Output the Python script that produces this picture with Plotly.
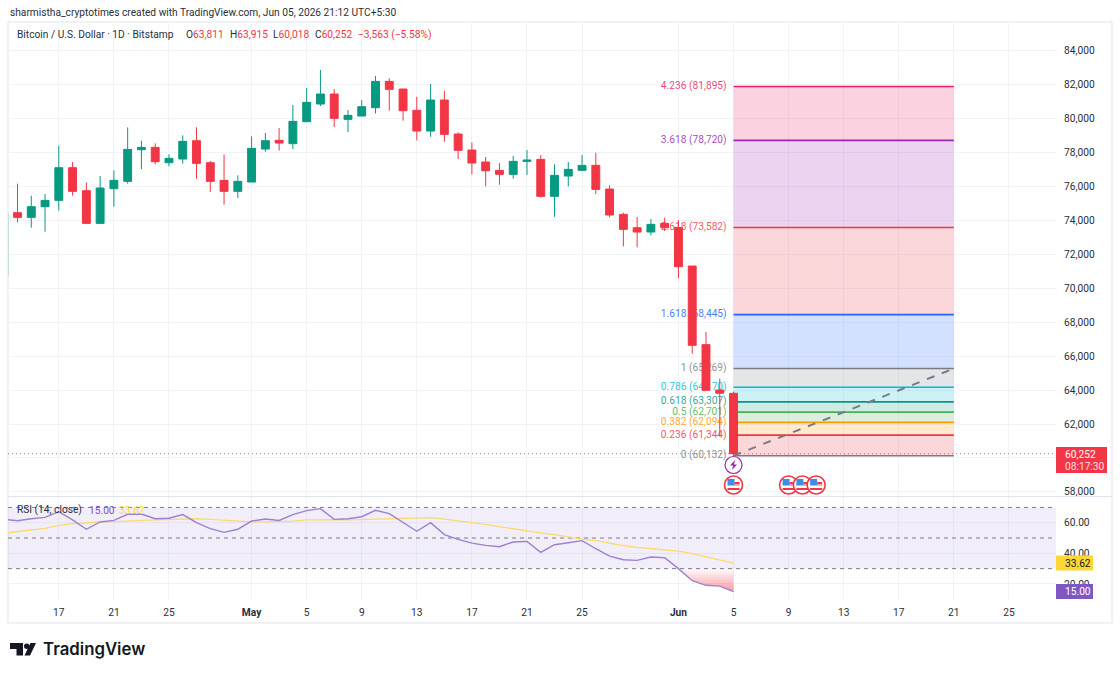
import pandas as pd
import plotly.graph_objects as go

W, H = 1120, 675
PANE_L, PANE_R = 8, 1056
MAIN_T, MAIN_B = 22, 496
RSI_B = 600

dates = pd.date_range("2026-04-13", "2026-06-05").strftime("%Y-%m-%d").tolist()

opens = [70723, 74456, 74181, 74810, 75183, 77108, 75753, 73827, 75871, 76303, 78169, 78307, 77403, 77619,
         78700, 77403, 76362, 75714, 76264, 78209, 78720, 78523, 79820, 80861, 81450, 79957, 80154, 80645,
         82197, 81745, 80487, 79269, 81096, 79092, 78149, 77442, 76951, 76715, 77481, 77599, 75418, 76617,
         76951, 77246, 75850, 74357, 73571, 73316, 73827, 73582, 71313, 66677, 64005, 63811]
highs = [74456, 76165, 75458, 75556, 78405, 77442, 76244, 76617, 76951, 79486, 78700, 78543, 77894, 79014,
         79486, 77501, 77894, 76656, 78955, 79152, 79446, 80802, 81804, 82865, 81745, 80507, 81097, 82511,
         82373, 81764, 81293, 82039, 81646, 79191, 78601, 77737, 77363, 77796, 78149, 77855, 77305, 77442,
         77855, 77992, 76067, 74456, 74200, 74082, 74161, 74024, 71313, 67423, 64673, 63915]
lows = [70723, 73886, 73572, 73336, 74574, 75458, 73827, 73788, 74810, 76165, 77030, 77305, 77187, 77344,
        76460, 75674, 74928, 75320, 76264, 78051, 78110, 78209, 79820, 80743, 79505, 79211, 80154, 80311,
        80468, 79878, 78719, 78935, 78640, 77619, 76715, 76008, 76106, 76460, 76676, 75340, 74220, 76008,
        76951, 75556, 74181, 72471, 72412, 73120, 73375, 70586, 66146, 63985, 61254, 60018]
closes = [74456, 74181, 74810, 75183, 77108, 75714, 73827, 75910, 76362, 78189, 78307, 77462, 77658, 78660,
          77364, 76303, 75714, 76303, 78248, 78700, 78562, 79839, 80959, 81450, 80016, 80193, 80704, 82197,
          81725, 80468, 79269, 81096, 79073, 78130, 77383, 76931, 76715, 77481, 77560, 75418, 76656, 77010,
          77246, 75831, 74318, 73473, 73316, 73768, 73571, 71274, 66637, 63985, 63815, 60252]

rsi = [62.2, 61.3, 62.6, 63.5, 67.2, 61.8, 55.7, 60.5, 61.5, 65.5, 65.7, 62.6, 62.9, 65.3, 60.0, 56.1, 53.7,
       55.7, 61.1, 62.4, 61.5, 65.3, 67.9, 69.2, 62.2, 62.6, 63.9, 68.1, 65.9, 60.2, 54.4, 60.0, 52.2, 49.1,
       46.7, 45.2, 44.3, 47.4, 47.8, 40.6, 45.6, 46.9, 48.3, 43.0, 38.2, 35.8, 35.4, 37.6, 37.1, 30.0, 22.1,
       19.1, 18.6, 15.0]
rsi_ma = [53.1, 54.1, 55.2, 56.3, 58.3, 59.4, 59.8, 60.5, 60.7, 61.3, 61.5, 61.8, 62.2, 62.6, 62.6, 62.2, 61.5,
          60.9, 60.5, 60.5, 60.7, 61.1, 61.8, 62.0, 62.0, 61.8, 62.0, 62.2, 62.4, 62.9, 63.1, 63.3, 62.4, 61.3,
          60.2, 58.9, 57.4, 55.9, 54.8, 53.3, 52.2, 50.7, 49.3, 48.3, 46.7, 45.0, 43.9, 43.0, 42.4, 41.5, 39.8,
          37.8, 35.6, 33.62]

fib_ratios = ["4.236", "3.618", "2.618", "1.618", "1", "0.786", "0.618", "0.5", "0.382", "0.236", "0"]
fib_prices = [81895, 78720, 73582, 68445, 65269, 64170, 63307, 62701, 62094, 61344, 60132]
fib_colors = ["#E91E63", "#9C27B0", "#F23645", "#2962FF", "#787B86", "#00BCD4", "#089981", "#4CAF50", "#FF9800",
              "#F23645", "#787B86"]
fib_start, fib_end = "2026-06-05", "2026-06-21"
fib_label_x = "2026-06-04 12:00"

last_price = 60252
countdown = "08:17:30"
price_ticks = list(range(58000, 86000, 2000))
rsi_ticks = [60, 40, 20]
rsi_bands = [70, 50, 30]
time_ticks = ["2026-04-17", "2026-04-21", "2026-04-25", "2026-05-01", "2026-05-05", "2026-05-09", "2026-05-13",
              "2026-05-17", "2026-05-21", "2026-05-25", "2026-06-01", "2026-06-05", "2026-06-09", "2026-06-13",
              "2026-06-17", "2026-06-21", "2026-06-25"]
time_labels = ["17", "21", "25", "<b>May</b>", "5", "9", "13", "17", "21", "25", "<b>Jun</b>", "5", "9", "13", "17",
               "21", "25"]
event_dates = ["2026-06-05", "2026-06-09", "2026-06-10", "2026-06-11"]

X_RANGE = ["2026-04-13 07:26", "2026-06-28 10:05"]
Y_RANGE = [57757, 85696]
RSI_RANGE = [9.5, 76.8]

FONT = "Roboto, sans-serif"
TXT = 10.2
INK = "#2a2e39"
GRID = "#f0f3fa"
FRAME = "#e0e3eb"
UP, DOWN = "#089981", "#F23645"
MA_COLOR, RSI_COLOR = "#FDD835", "#7E57C2"


def px(x):
    return x / W


def py(y):
    return 1 - y / H


def rgba(color, a):
    c = color.lstrip("#")
    return f"rgba({int(c[:2],16)},{int(c[2:4],16)},{int(c[4:],16)},{a})"


fig = go.Figure()
shapes = []

# Fibonacci zones and level lines sit over the grid but beneath the candles
for i in range(len(fib_prices) - 1):
    shapes.append(dict(type="rect", xref="x", yref="y", layer="between", x0=fib_start, x1=fib_end,
                       y0=fib_prices[i], y1=fib_prices[i + 1], fillcolor=rgba(fib_colors[i], 0.2),
                       line_width=0))
for p, c in zip(fib_prices, fib_colors):
    shapes.append(dict(type="line", xref="x", yref="y", layer="between", x0=fib_start, x1=fib_end, y0=p, y1=p,
                       line=dict(color=c, width=1.6)))

fig.add_trace(go.Scatter(
    x=[fib_label_x] * len(fib_prices), y=fib_prices, mode="text",
    text=[f"{r} ({p:,})" for r, p in zip(fib_ratios, fib_prices)], textposition="middle left",
    textfont=dict(family=FONT, size=TXT, color=[rgba(c, 0.85) for c in fib_colors]),
    xaxis="x", yaxis="y", showlegend=False, cliponaxis=False))

# Candles live on an overlay axis pair so they cover the level labels
fig.add_trace(go.Candlestick(
    x=dates, open=opens, high=highs, low=lows, close=closes, xaxis="x3", yaxis="y3",
    increasing=dict(line=dict(color=UP, width=1), fillcolor=UP),
    decreasing=dict(line=dict(color=DOWN, width=1), fillcolor=DOWN),
    whiskerwidth=0, showlegend=False))

fig.add_trace(go.Scatter(x=[fib_start, fib_end], y=[fib_prices[-1], fib_prices[4]], mode="lines",
                         line=dict(color="#787B86", width=2, dash="8px,8px"),
                         xaxis="x3", yaxis="y3", showlegend=False))
fig.add_trace(go.Scatter(x=[X_RANGE[0], X_RANGE[1]], y=[last_price, last_price], mode="lines",
                         line=dict(color="rgba(242,54,69,0.75)", width=1, dash="1px,3px"),
                         xaxis="x3", yaxis="y3", showlegend=False))

# RSI pane
shapes.append(dict(type="rect", xref="x2", yref="y2", layer="between", x0=X_RANGE[0], x1=X_RANGE[1],
                   y0=rsi_bands[0], y1=rsi_bands[2], fillcolor=rgba(RSI_COLOR, 0.1), line_width=0))
for b in rsi_bands:
    shapes.append(dict(type="line", xref="x2", yref="y2", layer="between", x0=X_RANGE[0], x1=X_RANGE[1], y0=b, y1=b,
                       line=dict(color="#787B86", width=1, dash="4px,4px")))

oversold_start = dates.index("2026-06-01")
fig.add_trace(go.Scatter(x=dates[oversold_start:], y=[rsi_bands[2]] * (len(dates) - oversold_start), mode="lines",
                         line=dict(width=0), xaxis="x2", yaxis="y2", showlegend=False))
fig.add_trace(go.Scatter(x=dates[oversold_start:], y=rsi[oversold_start:], mode="lines", line=dict(width=0),
                         fill="tonexty",
                         fillgradient=dict(type="vertical", start=rsi[-1], stop=rsi_bands[2],
                                           colorscale=[[0, "rgba(242,54,69,0.5)"], [1, "rgba(242,54,69,0.02)"]]),
                         xaxis="x2", yaxis="y2", showlegend=False))
fig.add_trace(go.Scatter(x=dates, y=rsi_ma, mode="lines", line=dict(color="#FBDA6A", width=1.3),
                         xaxis="x2", yaxis="y2", showlegend=False))
fig.add_trace(go.Scatter(x=dates, y=rsi, mode="lines", line=dict(color="#9C80D4", width=1.4),
                         xaxis="x2", yaxis="y2", showlegend=False))

# Event badges under the last candles
for d in event_dates:
    ring = dict(xref="x", yref="paper", xsizemode="pixel", ysizemode="pixel", xanchor=d,
                yanchor=py(485), layer="above")
    shapes.append({**ring, "type": "circle", "x0": -9, "x1": 9, "y0": -9, "y1": 9, "fillcolor": "#ffffff",
                   "line": dict(color="#F23645", width=1.6)})
    shapes.append({**ring, "type": "rect", "x0": -6, "x1": 6, "y0": -5, "y1": -3, "fillcolor": "#F23645",
                   "line_width": 0})
    shapes.append({**ring, "type": "rect", "x0": -6, "x1": 6, "y0": -1, "y1": 1, "fillcolor": "#F8A5AC",
                   "line_width": 0})
    shapes.append({**ring, "type": "rect", "x0": -6, "x1": 1, "y0": 0, "y1": 6, "fillcolor": "#3D8FE6",
                   "line_width": 0})
    shapes.append({**ring, "type": "rect", "x0": 1, "x1": 6, "y0": 1, "y1": 3, "fillcolor": "#F23645",
                   "line_width": 0})

bolt = dict(xref="x", yref="paper", xsizemode="pixel", ysizemode="pixel", xanchor=fib_start, yanchor=py(465),
            layer="above")
shapes.append({**bolt, "type": "circle", "x0": -8.5, "x1": 8.5, "y0": -8.5, "y1": 8.5, "fillcolor": "#ffffff",
               "line": dict(color="#9C27B0", width=1.2)})
shapes.append({**bolt, "type": "path", "path": "M 1.5 5 L -3.5 -0.5 L -0.5 -0.5 L -1.5 -5 L 3.5 0.5 L 0.5 0.5 Z",
               "fillcolor": "#9C27B0", "line_width": 0})

# Frame and pane divider
shapes.append(dict(type="rect", xref="paper", yref="paper", layer="below", x0=px(8), x1=px(1112), y0=py(623),
                   y1=py(22), line=dict(color=FRAME, width=1)))
shapes.append(dict(type="line", xref="paper", yref="paper", layer="above", x0=px(8), x1=px(1112), y0=py(496.5),
                   y1=py(496.5), line=dict(color=FRAME, width=1)))


def poly(points):
    return "M " + " L ".join(f"{px(a)} {py(b)}" for a, b in points) + " Z"


# TradingView mark
for outline in ([(10, 643), (23, 643), (23, 655.5), (16.5, 655.5), (16.5, 649), (10, 649)],
                [(30.5, 643), (36, 643), (30, 655.5), (24.5, 655.5)]):
    shapes.append(dict(type="path", xref="paper", yref="paper", path=poly(outline), fillcolor="#131722", line_width=0))
shapes.append(dict(type="circle", xref="paper", yref="paper", x0=px(24), x1=px(29.5), y0=py(649), y1=py(643.5),
                   fillcolor="#131722", line_width=0))


def note(text, x, y, size=TXT, color=INK, family=FONT, yref="paper", **kw):
    return dict(text=text, x=px(x), y=py(y) if yref == "paper" else y, xref="paper", yref=yref, xanchor="left",
                yanchor="middle", showarrow=False, font=dict(family=family, size=size, color=color, **kw))


def value_tag(value, fill, ink):
    # Axis tag pinned to the last indicator value
    shapes.append(dict(type="rect", xref="paper", yref="y2", ysizemode="pixel", yanchor=value, x0=px(1056), x1=px(1093),
                       y0=-7.5, y1=7.5, fillcolor=fill, line_width=0, layer="above"))
    return note(f"{value:.2f}", 1063, value, color=ink, yref="y2")


red = lambda s: f'<span style="color:{DOWN}">{s}</span>'
shapes.append(dict(type="rect", xref="paper", yref="paper", x0=px(1056), x1=px(1107), y0=py(473), y1=py(447),
                   fillcolor=DOWN, line_width=0, layer="above"))
annotations = [
    note("sharmistha_cryptotimes created with TradingView.com, Jun 05, 2026 21:12 UTC+5:30", 8, 12.5),
    note("Bitcoin / U.S. Dollar · 1D · Bitstamp", 15, 35),
    note(f"O{red('63,811')}", 184, 35),
    note(f"H{red('63,915')}", 228, 35),
    note(f"L{red('60,018')}", 271, 35),
    note(f"C{red('60,252')}", 313, 35),
    note(red("−3,563 (−5.58%)"), 356, 35),
    note("RSI (14, close)", 15, 510),
    note("15.00", 87, 510, color=RSI_COLOR),
    note("33.62", 117, 510, color=MA_COLOR),
    note("TradingView", 41, 649, size=16.8, color="#131722", family="Inter, sans-serif", weight=600),
    note(f"{last_price:,}", 1063, 454, color="#ffffff"),
    note(countdown, 1063, 466, color="#ffdfe2"),
    value_tag(rsi_ma[-1], MA_COLOR, "#131722"),
    value_tag(rsi[-1], RSI_COLOR, "#ffffff"),
]

x_domain = [px(PANE_L), px(PANE_R)]
time_axis = dict(type="date", range=X_RANGE, domain=x_domain, tickmode="array", tickvals=time_ticks, showgrid=True,
                 gridcolor=GRID, gridwidth=1, zeroline=False, showline=False, ticks="")
fig.update_layout(
    width=W, height=H, margin=dict(l=0, r=0, t=0, b=0, pad=0, autoexpand=False), paper_bgcolor="#ffffff",
    plot_bgcolor="#ffffff",
    font=dict(family=FONT, size=TXT, color=INK), showlegend=False, boxgap=0.18, hovermode=False,
    xaxis={**time_axis, "anchor": "y", "showticklabels": False, "rangeslider": dict(visible=False)},
    xaxis2={**time_axis, "anchor": "y2", "ticktext": time_labels, "showticklabels": True, "ticklabelstandoff": 5,
            "tickfont": dict(family=FONT, size=TXT, color=INK)},
    xaxis3={**time_axis, "anchor": "y3", "overlaying": "x", "showgrid": False, "showticklabels": False,
            "rangeslider": dict(visible=False)},
    yaxis=dict(domain=[py(MAIN_B), py(MAIN_T)], range=Y_RANGE, anchor="x", side="right", tickmode="array",
               tickvals=price_ticks, ticktext=["" if t == 60000 else f"{t:,}" for t in price_ticks],
               gridcolor=GRID, zeroline=False, ticks="", ticklabelstandoff=7),
    yaxis2=dict(domain=[py(RSI_B), py(MAIN_B + 1)], range=RSI_RANGE, anchor="x2", side="right", tickmode="array",
                tickvals=rsi_ticks, ticktext=[f"{t:.2f}" for t in rsi_ticks], gridcolor=GRID, zeroline=False,
                ticks="", ticklabelstandoff=7),
    yaxis3=dict(domain=[py(MAIN_B), py(MAIN_T)], range=Y_RANGE, anchor="x3", overlaying="y", side="right",
                showgrid=False, showticklabels=False, zeroline=False),
    shapes=shapes, annotations=annotations,
)

fig.write_html("out.html")
